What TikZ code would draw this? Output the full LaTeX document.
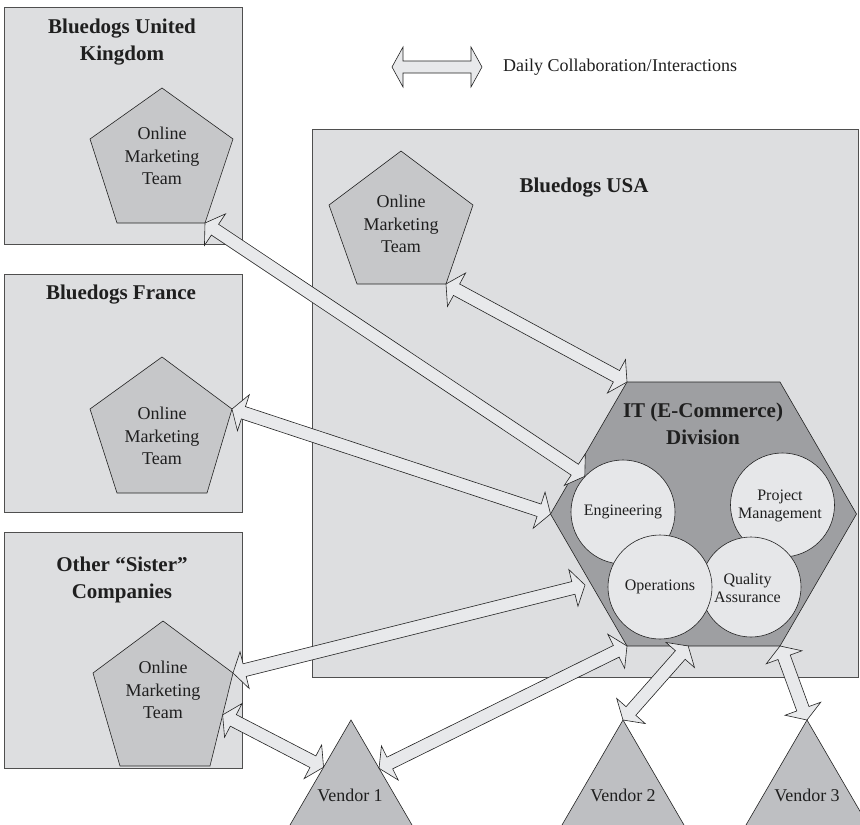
\documentclass[tikz,border=0pt]{standalone}
\usepackage{fontspec}
\setmainfont{Liberation Serif}
\usetikzlibrary{calc}
\definecolor{boxfill}{RGB}{221,222,224}
\definecolor{pentafill}{RGB}{198,199,201}
\definecolor{hexfill}{RGB}{158,159,162}
\definecolor{circfill}{RGB}{230,231,233}
\definecolor{arrfill}{RGB}{232,233,235}
\definecolor{vendfill}{RGB}{190,191,194}
\definecolor{edgecol}{RGB}{35,35,35}
\tikzset{
  orgbox/.style={draw=edgecol!80, fill=boxfill, line width=0.9pt},
  pentashape/.style={draw=edgecol, fill=pentafill, line width=0.6pt},
  hexshape/.style={draw=edgecol, fill=hexfill, line width=0.6pt},
  unitcirc/.style={circle, draw=edgecol, fill=circfill, line width=0.6pt, minimum size=#1, inner sep=0pt},
  vendshape/.style={fill=vendfill},
  vendedge/.style={draw=edgecol, line width=0.6pt},
  arrowshape/.style={draw=edgecol, fill=arrfill, line width=0.6pt, line join=miter},
  boldtitle/.style={font=\fontsize{21}{26.5}\selectfont\bfseries, align=center, inner sep=0pt, text=black!88},
  teamtext/.style={font=\fontsize{18}{22.5}\selectfont, align=center, inner sep=0pt, text=black!88},
  circtext/.style={font=\fontsize{16}{18.5}\selectfont, align=center, inner sep=0pt, text=black!88},
}
% double block arrow between two named points: #1 tip A, #2 tip B, #3 head length, #4 head half width, #5 shaft half width
\newcommand{\dblarr}[5]{%
  \draw[arrowshape] (#1)
    -- ($(#1)!#3!(#2)!#4!90:(#2)$)
    -- ($(#1)!#3!(#2)!#5!90:(#2)$)
    -- ($(#2)!#3!(#1)!#5!-90:(#1)$)
    -- ($(#2)!#3!(#1)!#4!-90:(#1)$)
    -- (#2)
    -- ($(#2)!#3!(#1)!#4!90:(#1)$)
    -- ($(#2)!#3!(#1)!#5!90:(#1)$)
    -- ($(#1)!#3!(#2)!#5!-90:(#2)$)
    -- ($(#1)!#3!(#2)!#4!-90:(#2)$)
    -- cycle;}
\begin{document}
\begin{tikzpicture}[x=1pt,y=-1pt]
\useasboundingbox (0,0) rectangle (860,825);

% organisation boxes
\draw[orgbox] (4,7) rectangle (242,244);
\draw[orgbox] (4,274) rectangle (242,512);
\draw[orgbox] (4,532) rectangle (242,768);
\draw[orgbox] (312,129) rectangle (858,677);

% pentagons (Online Marketing Teams)
\coordinate (uk1) at (162,88);  \coordinate (uk2) at (233,139); \coordinate (uk3) at (205,223);
\coordinate (uk4) at (117,223); \coordinate (uk5) at (90,139);
\draw[pentashape] (uk1)--(uk2)--(uk3)--(uk4)--(uk5)--cycle;

\coordinate (fr1) at (162,357); \coordinate (fr2) at (232,409); \coordinate (fr3) at (207,493);
\coordinate (fr4) at (117,493); \coordinate (fr5) at (90,409);
\draw[pentashape] (fr1)--(fr2)--(fr3)--(fr4)--(fr5)--cycle;

\coordinate (ot1) at (163,621); \coordinate (ot2) at (233,673); \coordinate (ot3) at (210,766);
\coordinate (ot4) at (120,766); \coordinate (ot5) at (93,673);
\draw[pentashape] (ot1)--(ot2)--(ot3)--(ot4)--(ot5)--cycle;

\coordinate (us1) at (401,151); \coordinate (us2) at (473,205); \coordinate (us3) at (446,284);
\coordinate (us4) at (357,284); \coordinate (us5) at (329,205);
\draw[pentashape] (us1)--(us2)--(us3)--(us4)--(us5)--cycle;

% IT hexagon
\coordinate (hexL) at (550.5,514); \coordinate (hexTL) at (627,382); \coordinate (hexTR) at (780,382);
\coordinate (hexR) at (856.5,514); \coordinate (hexBR) at (780,646); \coordinate (hexBL) at (627,646);
\draw[hexshape] (hexL)--(hexTL)--(hexTR)--(hexR)--(hexBR)--(hexBL)--cycle;

% unit circles
\node[unitcirc=104pt] (eng) at (623,512) {};
\node[unitcirc=104pt] (pm) at (782.5,505) {};
\node[unitcirc=100pt] (qa) at (751,587) {};
\node[unitcirc=104pt] (ops) at (660,587) {};

% vendors
\coordinate (v1) at (351,720); \coordinate (v1bl) at (290,825); \coordinate (v1br) at (412,825);
\coordinate (v2) at (623,720); \coordinate (v2bl) at (562,825); \coordinate (v2br) at (684,825);
\coordinate (v3) at (807,720); \coordinate (v3bl) at (746,825); \coordinate (v3br) at (868,825);
\foreach \v in {v1,v2,v3}{
  \fill[vendshape] (\v bl)--(\v)--(\v br)--cycle;
  \draw[vendedge] (\v bl)--(\v)--(\v br);
}

% arrow end points
\coordinate (engtip) at (eng.137);
\coordinate (otedge) at ($(ot2)!0.45!(ot3)$);
\coordinate (v1left) at ($(v1)!0.45!(v1bl)$);
\coordinate (v1right) at ($(v1)!0.46!(v1br)$);
\coordinate (hexbot) at ($(hexBL)!0.4!(hexBR)$);
\coordinate (hexlow) at (585,585);
\coordinate (lgA) at (392,67);
\coordinate (lgB) at (482,67);

% interaction arrows
\dblarr{uk3}{engtip}{12pt}{19pt}{6.5pt}
\dblarr{fr2}{hexL}{12pt}{19pt}{6.5pt}
\dblarr{us3}{hexTL}{12pt}{19pt}{6.5pt}
\dblarr{ot2}{hexlow}{12pt}{19pt}{6.5pt}
\dblarr{otedge}{v1left}{12pt}{19pt}{6.5pt}
\dblarr{v1right}{hexBL}{12pt}{19pt}{6.5pt}
\dblarr{hexbot}{v2}{12pt}{19pt}{6.5pt}
\dblarr{hexBR}{v3}{12pt}{19pt}{6.5pt}

% legend
\dblarr{lgA}{lgB}{11pt}{20pt}{6pt}
\node[teamtext, anchor=west] (legend) at (503,67) {Daily Collaboration/\hspace{0.5pt}Interactions};

% titles
\node[boldtitle] (ukT) at (122,42) {Bluedogs United\\Kingdom};
\node[boldtitle] (frT) at (121,295) {Bluedogs France};
\node[boldtitle] (otT) at (122,580) {Other “Sister”\\Companies};
\node[boldtitle] (usT) at (584,188) {Bluedogs USA};
\node[boldtitle] (itT) at (703,424) {IT (E-Commerce)\\Division};

% team labels
\node[teamtext] (ukTeam) at (162,156) {Online\\Marketing\\Team};
\node[teamtext] (frTeam) at (162,436) {Online\\Marketing\\Team};
\node[teamtext] (otTeam) at (163,690) {Online\\Marketing\\Team};
\node[teamtext] (usTeam) at (401,224) {Online\\Marketing\\Team};

% unit labels
\node[circtext] (engT) at (eng) {Engineering};
\node[circtext] (pmT) at (780,506) {Project\\Management};
\node[circtext] (opsT) at (ops) {Operations};
\node[circtext] (qaT) at (747.5,588) {Quality\\Assurance};

% vendor labels
\node[teamtext] (v1T) at (350,795) {Vendor 1};
\node[teamtext] (v2T) at (623,795) {Vendor 2};
\node[teamtext] (v3T) at (807,795) {Vendor 3};
\end{tikzpicture}
\end{document}
